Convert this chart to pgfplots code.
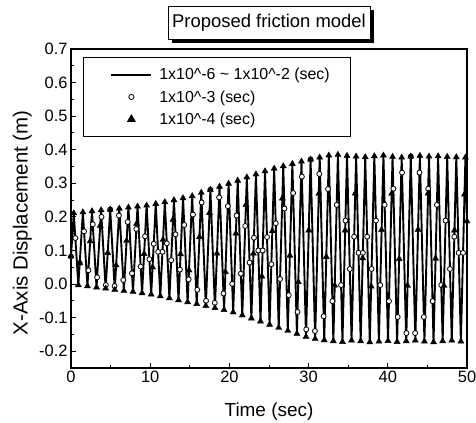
\documentclass[border=0pt]{standalone}
\usepackage{fontspec}
\setmainfont{Liberation Sans}
\usepackage{pgfplots}
\usepackage{pgfplotstable}
\pgfplotsset{compat=1.18}

\pgfplotstableread{
t y
0 0.083
0.35 0.211
0.925 -0.003
1.50 0.214
2.075 -0.006
2.65 0.217
3.225 -0.010
3.80 0.220
4.375 -0.013
4.95 0.222
5.525 -0.017
6.10 0.225
6.675 -0.020
7.25 0.228
7.825 -0.023
8.40 0.231
8.975 -0.027
9.55 0.234
10.125 -0.031
10.70 0.239
11.275 -0.036
11.85 0.244
12.425 -0.042
13.00 0.250
13.575 -0.048
14.15 0.256
14.725 -0.054
15.30 0.262
15.875 -0.059
16.45 0.272
17.025 -0.065
17.60 0.281
18.175 -0.071
18.75 0.290
19.325 -0.077
19.90 0.299
20.475 -0.084
21.05 0.308
21.625 -0.093
22.20 0.318
22.775 -0.102
23.35 0.327
23.925 -0.111
24.50 0.336
25.075 -0.121
25.65 0.344
26.225 -0.130
26.80 0.351
27.375 -0.139
27.95 0.358
28.525 -0.148
29.10 0.365
29.675 -0.157
30.25 0.371
30.825 -0.163
31.40 0.377
31.975 -0.167
32.55 0.383
33.125 -0.170
33.70 0.385
34.275 -0.172
34.85 0.382
35.425 -0.168
36.00 0.380
36.575 -0.170
37.15 0.378
37.725 -0.173
38.30 0.381
38.875 -0.171
39.45 0.383
40.025 -0.169
40.60 0.379
41.175 -0.172
41.75 0.377
42.325 -0.170
42.90 0.380
43.475 -0.168
44.05 0.382
44.625 -0.171
45.20 0.380
45.775 -0.173
46.35 0.381
46.925 -0.170
47.50 0.379
48.075 -0.168
48.65 0.378
49.225 -0.171
49.80 0.377
50 0.187
}\linedata

\pgfplotstableread{
t y
0 0.082
0.55 0.137
1.10 0.063
1.65 0.157
2.20 0.041
2.75 0.178
3.30 0.020
3.85 0.200
4.40 -0.003
4.95 0.222
5.50 -0.006
6.05 0.204
6.60 0.012
7.15 0.185
7.70 0.032
8.25 0.164
8.80 0.052
9.35 0.142
9.90 0.074
10.45 0.120
11.00 0.096
11.55 0.096
12.10 0.121
12.65 0.071
13.20 0.148
13.75 0.043
14.30 0.176
14.85 0.014
15.40 0.207
15.95 -0.017
16.50 0.243
17.05 -0.050
17.60 0.281
18.15 -0.056
18.70 0.258
19.25 -0.028
19.80 0.232
20.35 0.001
20.90 0.204
21.45 0.031
22.00 0.173
22.55 0.064
23.10 0.138
23.65 0.100
24.20 0.100
24.75 0.140
25.30 0.059
25.85 0.181
26.40 0.015
26.95 0.225
27.50 -0.033
28.05 0.271
28.60 -0.083
29.15 0.320
29.70 -0.135
30.25 0.371
30.80 -0.140
31.35 0.328
31.90 -0.096
32.45 0.283
33.00 -0.051
33.55 0.236
34.10 -0.003
34.65 0.189
35.20 0.045
35.75 0.141
36.30 0.093
36.85 0.093
37.40 0.141
37.95 0.045
38.50 0.189
39.05 -0.003
39.60 0.236
40.15 -0.051
40.70 0.284
41.25 -0.098
41.80 0.332
42.35 -0.146
42.90 0.380
43.45 -0.146
44.00 0.332
44.55 -0.098
45.10 0.284
45.65 -0.051
46.20 0.236
46.75 -0.003
47.30 0.189
47.85 0.045
48.40 0.141
48.95 0.093
49.50 0.093
}\circdata

\pgfplotstableread{
t y
1.098 0.062
2.420 0.128
3.685 0.174
4.634 0.093
5.698 0.056
7.020 0.129
8.285 0.180
9.234 0.090
10.298 0.050
11.620 0.132
12.885 0.192
13.834 0.089
14.898 0.041
16.220 0.140
17.485 0.212
18.434 0.091
19.498 0.036
20.820 0.151
22.085 0.236
23.034 0.091
24.098 0.023
25.420 0.158
26.685 0.255
27.634 0.085
28.698 0.006
30.020 0.160
31.285 0.269
32.234 0.081
33.298 -0.004
34.620 0.160
35.885 0.270
36.834 0.077
37.898 -0.007
39.220 0.161
40.485 0.269
41.434 0.075
42.498 -0.005
43.820 0.162
45.085 0.270
46.034 0.076
47.098 -0.005
48.420 0.160
49.685 0.267
}\trimid

\begin{document}
\begin{tikzpicture}
\begin{axis}[
  scale only axis,
  width=396bp, height=319bp,
  xmin=0, xmax=50, ymin=-0.25, ymax=0.7,
  xtick={0,10,20,30,40,50},
  ytick={-0.2,-0.1,0,0.1,0.2,0.3,0.4,0.5,0.6,0.7},
  minor x tick num=1, minor y tick num=1,
  tick align=inside, tick pos=left,
  major tick length=5bp, minor tick length=3bp,
  every tick/.style={black, line width=1bp},
  axis line style={line width=1.3bp},
  /pgf/number format/assume math mode=true,
  yticklabel style={/pgf/number format/.cd, fixed, fixed zerofill, precision=1},
  ticklabel style={font=\fontsize{16.5}{19}\selectfont},
  xlabel={Time (sec)},
  ylabel={X-Axis Displacement (m)},
  label style={font=\fontsize{19}{22}\selectfont},
  ylabel style={font=\fontsize{20.5}{23}\selectfont, at={(axis description cs:-0.123,0.455)}, anchor=center},
  xlabel style={at={(axis description cs:0.5,-0.138)}, anchor=center},
  legend style={at={(axis description cs:0.0303,0.975)}, anchor=north west,
    draw=black, line width=0.9bp, font=\fontsize{16}{19}\selectfont,
    legend cell align=left, row sep=5bp, inner ysep=9bp, inner xsep=2bp},
]
\addplot[black, line width=1.9bp,
  legend image code/.code={\path (-25bp,0) (45bp,0); \draw[black,line width=1.5bp] (0bp,0bp) -- (40bp,0bp);}]
  table[x=t,y=y] {\linedata};
\addlegendentry{1x10\textasciicircum-6 \textasciitilde\ 1x10\textasciicircum-2 (sec)\kern17bp\null}
\addplot[only marks, mark=*, mark size=2.5bp, mark options={fill=white, draw=black, line width=0.8bp},
  legend image code/.code={\path (-25bp,0) (45bp,0); \draw[black, fill=white, line width=0.8bp] (20bp,0) circle (2.6bp);}]
  table[x=t,y=y] {\circdata};
\addlegendentry{1x10\textasciicircum-3 (sec)}
\addplot[only marks, mark=triangle*, mark size=3.5bp, mark options={fill=black, draw=black},
  legend image code/.code={\path (-25bp,0) (45bp,0); \fill[black] (20bp,4bp) -- (16.2bp,-2.5bp) -- (23.8bp,-2.5bp) -- cycle;}]
  table[x=t,y=y] {\linedata};
\addlegendentry{1x10\textasciicircum-4 (sec)}
\addplot[forget plot, only marks, mark=triangle*, mark size=3.5bp, mark options={fill=black, draw=black}]
  table[x=t,y=y] {\trimid};
\end{axis}
\fill[black] (101bp,325bp) rectangle (303bp,358bp);
\draw[fill=white, line width=0.9bp] (97bp,329bp) rectangle (299bp,362bp);
\node[font=\fontsize{18.5}{20}\selectfont, anchor=center] at (198bp,345.5bp) {Proposed friction model};
\pgfresetboundingbox
\path[use as bounding box] (-71bp,-55bp) rectangle (405bp,368bp);
\end{tikzpicture}
\end{document}
